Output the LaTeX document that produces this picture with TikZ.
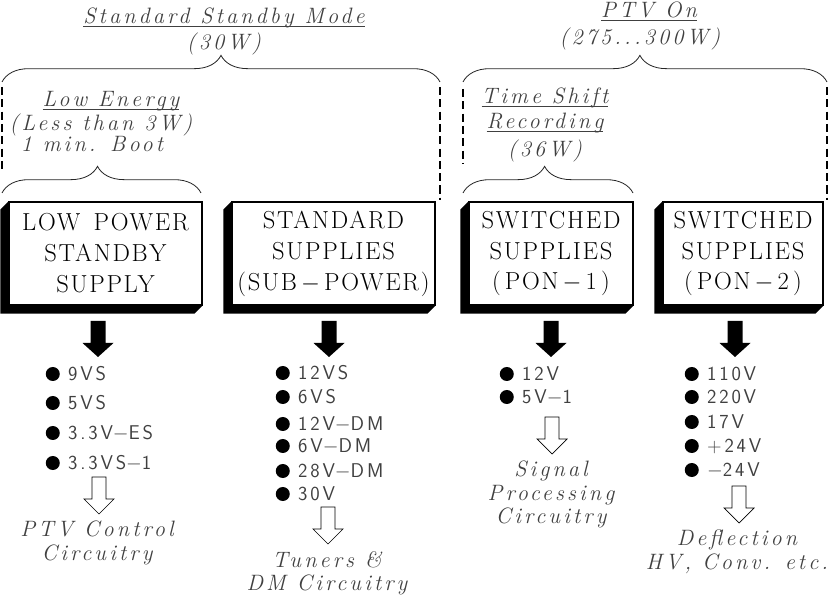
\documentclass[tikz,border=0pt]{standalone}
\usepackage{amsmath}
\usepackage{fontspec}
\usetikzlibrary{decorations.pathreplacing}
\newfontfamily\supplyfont{lmroman17-regular.otf}[LetterSpace=7]
\newfontfamily\notefont{lmroman12-italic.otf}[LetterSpace=14]
\newfontfamily\railfont{lmsans17-regular.otf}[LetterSpace=14]
\newcommand{\ulabel}[1]{$\underline{\smash[b]{\hbox{#1}}}$}
\newcommand{\sdash}{\,$-$\,}

\begin{document}
\begin{tikzpicture}[
    x=0.03cm, y=-0.03cm,
    every node/.style={inner sep=0pt},
    supply/.style={
        draw=black,
        line width=1pt,
        fill=white,
        align=center,
        minimum height=3.09cm,
        font=\fontsize{21}{26.4}\supplyfont
    },
    note/.style={
        anchor=north,
        align=center,
        text=black!75,
        font=\fontsize{19}{20}\notefont
    },
    dot/.style={
        circle,
        fill=black,
        minimum size=0.42cm
    },
    rail/.style={
        anchor=west,
        text=black!75,
        text height=11.8pt,
        text depth=0pt,
        font=\fontsize{17}{20}\railfont,
        label={[dot, xshift=-0.24cm]left:{}}
    },
    cover/.style={
        draw=black!85,
        line width=0.7pt,
        decorate,
        decoration={brace, amplitude=0.8cm, aspect=#1}
    },
    bound/.style={
        draw=black,
        line width=0.9pt,
        dash pattern=on 7pt off 3.5pt
    },
    feed/.pic={
        \fill (-7.5,0) -- (-7.5,22) -- (-15.5,22) -- (0,36) -- (15.5,22)
              -- (7.5,22) -- (7.5,0) -- cycle;
    },
    load/.pic={
        \filldraw[fill=white, line width=0.6pt]
              (-7,0) -- (-7,22) -- (-15,22) -- (0,37) -- (15,22)
              -- (7,22) -- (7,0) -- cycle;
    }
]

\useasboundingbox (0,0) rectangle (828,596);

% ============================================================
% MODES
% ============================================================

\node[note] (stdby) at (224,8)
{\ulabel{Standard Standby Mode}\\[2pt](30W)};

\node[note] (ptvon) at (649,2)
{\ulabel{PTV On}};

\node[note] (ptvpow) at (640,28)
{(275...300W)};

\node[note] (lowe) at (111,91)
{\ulabel{Low Energy}};

\node[note] (lowepow) at (101,114)
{(Less than 3W)};

\node[note] (boot) at (92,136)
{1 min. Boot};

\node[note] (tshift) at (545,88)
{\ulabel{Time Shift}\\[1pt]\ulabel{Recording}\\[4pt](36W)};

% Klammern
\draw[cover=0.5] (2,82) -- (440,82);
\draw[cover=0.48] (2,193) -- (201,193);
\draw[cover=0.486] (463,82) -- (827,82);
\draw[cover=0.48] (463,193) -- (633,193);

\draw[bound] (2,87) -- (2,170);
\draw[bound] (440,87) -- (440,200);
\draw[bound] (463,89) -- (463,163);
\draw[bound] (827,87) -- (827,200);

% ============================================================
% SUPPLIES
% ============================================================

\node[supply, minimum width=5.79cm] (lps) at (105.5,253.5)
{LOW\ \,POWER\\STANDBY\\SUPPLY};

\node[supply, minimum width=6.09cm] (sub) at (333.5,253.5)
{STANDARD\\SUPPLIES\\(SUB\sdash POWER)};

\node[supply, minimum width=4.92cm] (pon1) at (551,253.5)
{SWITCHED\\SUPPLIES\\(\,PON\sdash 1\,)};

\node[supply, minimum width=4.8cm] (pon2) at (743,253.5)
{SWITCHED\\SUPPLIES\\(\,PON\sdash 2\,)};

% Schatten
\fill (lps.north west) -- ++(-8,8) -- ([shift={(-8,8)}]lps.south west)
    -- ([shift={(-8,8)}]lps.south east) -- (lps.south east)
    -- (lps.south west) -- cycle;
\fill (sub.north west) -- ++(-8,8) -- ([shift={(-8,8)}]sub.south west)
    -- ([shift={(-8,8)}]sub.south east) -- (sub.south east)
    -- (sub.south west) -- cycle;
\fill (pon1.north west) -- ++(-8,8) -- ([shift={(-8,8)}]pon1.south west)
    -- ([shift={(-8,8)}]pon1.south east) -- (pon1.south east)
    -- (pon1.south west) -- cycle;
\fill (pon2.north west) -- ++(-8,8) -- ([shift={(-8,8)}]pon2.south west)
    -- ([shift={(-8,8)}]pon2.south east) -- (pon2.south east)
    -- (pon2.south west) -- cycle;

\pic (f1) at (98,321) {feed};
\pic (f2) at (329,321) {feed};
\pic (f3) at (551,321) {feed};
\pic (f4) at (735,321) {feed};

% ============================================================
% RAILS
% ============================================================

\node[rail] (r1a) at (68,374) {9VS};
\node[rail] (r1b) at (68,403) {5VS};
\node[rail] (r1c) at (68,433) {3.3V$-$ES};
\node[rail] (r1d) at (68,463) {3.3VS$-$1};

\node[rail] (r2a) at (298,373) {12VS};
\node[rail] (r2b) at (298,397) {6VS};
\node[rail] (r2c) at (298,424) {12V$-$DM};
\node[rail] (r2d) at (298,446) {6V$-$DM};
\node[rail] (r2e) at (298,471) {28V$-$DM};
\node[rail] (r2f) at (298,494) {30V};

\node[rail] (r3a) at (522,374) {12V};
\node[rail] (r3b) at (522,397) {5V$-$1};

\node[rail] (r4a) at (707,374) {110V};
\node[rail] (r4b) at (707,397) {220V};
\node[rail] (r4c) at (707,422) {17V};
\node[rail] (r4d) at (707,446) {+24V};
\node[rail] (r4e) at (707,470) {$-$24V};

% ============================================================
% LOADS
% ============================================================

\pic (l1) at (99,477) {load};
\pic (l2) at (328,507) {load};
\pic (l3) at (552,417) {load};
\pic (l4) at (739,486) {load};

\node[note] (ctl) at (97,521)
{PTV Control\\Circuitry};

\node[note] (tun) at (327,551)
{Tuners \&\\DM Circuitry};

\node[note] (sig) at (551,461)
{Signal\\Processing\\Circuitry};

\node[note] (defl) at (737,530)
{Deflection\\HV, Conv. etc.};

\end{tikzpicture}
\end{document}
